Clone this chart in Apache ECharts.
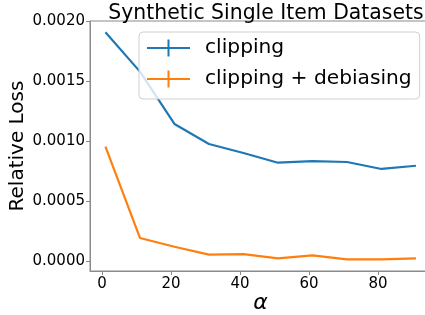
<!DOCTYPE html>
<html>
<head>
<meta charset="utf-8">
<script src="https://cdn.jsdelivr.net/npm/echarts@6/dist/echarts.min.js"></script>
<style>
  html, body { margin: 0; padding: 0; background: #fff; }
  #main-chart { width: 425px; height: 315px; }
</style>
</head>
<body>
<div id="main-chart"></div>
<script>
// alpha 取值
var alphaList = [1, 11, 21, 31, 41, 51, 61, 71, 81, 91];
// clipping
var clipLoss = [0.001906, 0.001578, 0.001142, 0.000975, 0.000900, 0.000819, 0.000833, 0.000825, 0.000767, 0.000794];
// clipping + debiasing
var debiasLoss = [0.000953, 0.000192, 0.000119, 0.000053, 0.000058, 0.000022, 0.000047, 0.000014, 0.000014, 0.000022];
var xTicks = [0, 20, 40, 60, 80];
var yTicks = [0, 0.0005, 0.0010, 0.0015, 0.0020];

function pairs(xs, ys){
	var out = [];
	for(var i = 0; i < xs.length; i++){
		out.push([xs[i], ys[i]]);
	}
	return out;
}

var font = 'DejaVu Sans';
var axisColor = '#8a8a8a';
// 图例：横线 + 竖线（误差棒样式）
var errIcon = 'path://M0,7.5h43v2h-43z M20.5,0h2v17h-2z';

var myChart = echarts.init(document.getElementById('main-chart'));

var option = {
	animation: false,
	title: {
		text: 'Synthetic Single Item Datasets',
		left: 261,
		top: -1,
		textAlign: 'center',
		textStyle: { fontFamily: font, fontSize: 20.4, fontWeight: 'normal', color: '#000' }
	},
	legend: {
		orient: 'vertical',
		left: 139,
		top: 32,
		padding: [4, 8, 8, 8],
		itemGap: 7,
		itemWidth: 43,
		itemHeight: 17,
		backgroundColor: 'rgba(255,255,255,0.8)',
		borderColor: '#d0d0d0',
		borderWidth: 1,
		borderRadius: 4,
		textStyle: { fontFamily: font, fontSize: 20.2, color: '#000', padding: [0, 0, 0, 10], lineHeight: 24 },
		data: [
			{ name: 'clipping', icon: errIcon },
			{ name: 'clipping + debiasing', icon: errIcon }
		]
	},
	grid: {
		left: 90,
		right: -6,
		top: 21,
		bottom: 44,
		outerBoundsMode: 'none',
		containLabel: false,
		show: true,
		borderColor: axisColor,
		borderWidth: 1
	},
	xAxis: {
		type: 'value',
		min: -3.48,
		max: 95.36,
		name: 'α',
		nameLocation: 'middle',
		nameGap: 21,
		nameMoveOverlap: false,
		nameTextStyle: { fontFamily: font, fontSize: 22, fontStyle: 'italic', color: '#000' },
		splitLine: { show: false },
		axisLine: { show: true, onZero: false, lineStyle: { color: axisColor } },
		axisTick: { show: true, length: 4, lineStyle: { color: axisColor }, customValues: xTicks },
		axisLabel: { margin: 6, fontFamily: font, fontSize: 15, color: '#000', customValues: xTicks }
	},
	yAxis: {
		type: 'value',
		min: -0.0000833,
		max: 0.002,
		name: 'Relative Loss',
		nameLocation: 'middle',
		nameGap: 62,
		nameMoveOverlap: false,
		nameTextStyle: { fontFamily: font, fontSize: 20, color: '#000' },
		splitLine: { show: false },
		axisLine: { show: true, onZero: false, lineStyle: { color: axisColor } },
		axisTick: { show: true, length: 4, lineStyle: { color: axisColor }, customValues: yTicks },
		axisLabel: {
			margin: 5, fontFamily: font, fontSize: 15, color: '#000', customValues: yTicks,
			formatter: function(v){ return v.toFixed(4); }
		}
	},
	series: [
		{
			name: 'clipping',
			type: 'line',
			data: pairs(alphaList, clipLoss),
			symbol: 'none',
			color: '#1f77b4',
			lineStyle: { width: 2.2, color: '#1f77b4' }
		},
		{
			name: 'clipping + debiasing',
			type: 'line',
			data: pairs(alphaList, debiasLoss),
			symbol: 'none',
			color: '#ff7f0e',
			lineStyle: { width: 2.2, color: '#ff7f0e' }
		}
	]
};

myChart.setOption(option);
</script>
</body>
</html>
